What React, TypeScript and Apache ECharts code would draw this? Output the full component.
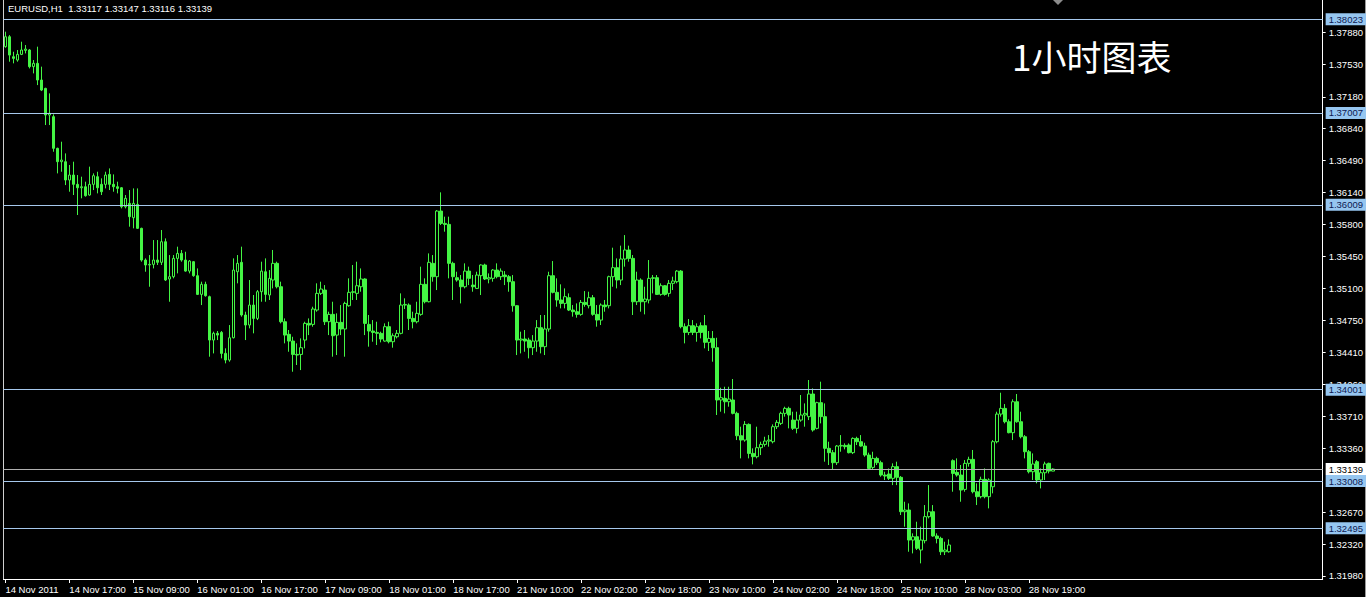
import React, { useEffect, useRef } from 'react';
import * as echarts from 'echarts';

const tickLabels = ['14 Nov 2011', '14 Nov 17:00', '15 Nov 09:00', '16 Nov 01:00', '16 Nov 17:00', '17 Nov 09:00', '18 Nov 01:00', '18 Nov 17:00', '21 Nov 10:00', '22 Nov 02:00', '22 Nov 18:00', '23 Nov 10:00', '24 Nov 02:00', '24 Nov 18:00', '25 Nov 10:00', '28 Nov 03:00', '28 Nov 19:00'];
const priceTicks = [1.3788, 1.3753, 1.3718, 1.3684, 1.3649, 1.3614, 1.358, 1.3545, 1.351, 1.3475, 1.3441, 1.3406, 1.3371, 1.3336, 1.3267, 1.3232, 1.3198];
const levelLines = [1.38023, 1.37007, 1.36009, 1.34001, 1.33008, 1.32495];
const bidPrice = 1.33139;
const header = 'EURUSD,H1  1.33117 1.33147 1.33116 1.33139';
const title = '1小时图表';

// [open, close, low, high] per hourly bar
const nov14 = [[1.37726,1.37834,1.37715,1.37889],[1.37834,1.37635,1.37563,1.37852],[1.37617,1.37599,1.37545,1.37671],[1.37581,1.37642,1.37563,1.3769],[1.37642,1.3769,1.37635,1.3778],[1.37686,1.377,1.37653,1.37744],[1.3769,1.37509,1.3749,1.377],[1.37509,1.37545,1.37436,1.37581],[1.37545,1.37364,1.37309,1.37726],[1.37364,1.37255,1.37244,1.37509],[1.37273,1.36984,1.36875,1.3728],[1.36984,1.37002,1.36875,1.37219],[1.36966,1.36622,1.36585,1.36991],[1.36622,1.36477,1.3635,1.36629],[1.36477,1.36495,1.36368,1.36694],[1.36477,1.36278,1.36223,1.36567],[1.36278,1.36332,1.36151,1.36441],[1.36332,1.36231,1.36115,1.36477],[1.36231,1.36194,1.35898,1.36332],[1.36194,1.36205,1.36079,1.36314],[1.36205,1.36108,1.36097,1.3626],[1.36115,1.36231,1.36108,1.36423],[1.36231,1.36325,1.36169,1.3635]];
const nov15 = [[1.36314,1.36194,1.36133,1.36368],[1.36231,1.36151,1.36115,1.36296],[1.36231,1.36332,1.36187,1.36368],[1.36339,1.36231,1.36169,1.36404],[1.36231,1.36205,1.36151,1.36339],[1.36205,1.36187,1.36133,1.3626],[1.36194,1.35988,1.3597,1.36202],[1.35988,1.36079,1.3597,1.36115],[1.36024,1.3588,1.35771,1.36169],[1.35869,1.36024,1.35753,1.36187],[1.36013,1.35753,1.35746,1.36187],[1.35753,1.35409,1.35391,1.3576],[1.35409,1.35355,1.35282,1.35427],[1.35355,1.35362,1.35119,1.35463],[1.35362,1.35409,1.35318,1.35626],[1.35409,1.35384,1.35355,1.35626],[1.35384,1.35608,1.35355,1.35735],[1.35608,1.35192,1.35181,1.35644],[1.35203,1.35228,1.34956,1.35463],[1.35228,1.35427,1.3521,1.35463],[1.35427,1.35481,1.35264,1.35554],[1.35481,1.35409,1.35391,1.35518],[1.35409,1.35289,1.35282,1.35499],[1.35289,1.35398,1.35264,1.35409]];
const nov16 = [[1.35391,1.35239,1.35228,1.35398],[1.35239,1.35036,1.35029,1.35318],[1.35036,1.35145,1.3492,1.35174],[1.35145,1.35022,1.35011,1.35174],[1.35011,1.3454,1.34359,1.35022],[1.3454,1.34613,1.34395,1.34631],[1.34613,1.34594,1.3454,1.34638],[1.34623,1.34395,1.34341,1.34638],[1.34395,1.34323,1.34287,1.3445],[1.34323,1.34565,1.34305,1.34703],[1.34565,1.353,1.34558,1.35427],[1.35282,1.35373,1.35156,1.35463],[1.35384,1.34812,1.34794,1.35554],[1.34812,1.34703,1.3454,1.34848],[1.34703,1.3492,1.34667,1.35192],[1.3492,1.34775,1.34613,1.35029],[1.34775,1.35065,1.34757,1.35083],[1.35065,1.35289,1.34956,1.35391],[1.35282,1.35036,1.34956,1.35427],[1.35029,1.3521,1.34975,1.353],[1.35192,1.35373,1.35101,1.35518],[1.35373,1.35119,1.35101,1.35391],[1.35119,1.34739,1.34721,1.35174],[1.34739,1.34594,1.34504,1.34775]];
const nov17 = [[1.34602,1.34529,1.34413,1.34649],[1.34529,1.34384,1.34196,1.34576],[1.34384,1.34377,1.34269,1.34504],[1.34384,1.34457,1.34214,1.34558],[1.3454,1.34721,1.3445,1.34739],[1.34721,1.34703,1.34594,1.34775],[1.3471,1.34877,1.34685,1.34902],[1.34866,1.35047,1.34848,1.35156],[1.35047,1.35094,1.35029,1.35174],[1.35083,1.34739,1.34703,1.35137],[1.34739,1.34819,1.34594,1.34848],[1.34819,1.34587,1.34359,1.34956],[1.34594,1.34732,1.34377,1.3483],[1.34732,1.3466,1.34594,1.3492],[1.3466,1.34938,1.34359,1.34956],[1.34913,1.35058,1.34902,1.3521],[1.35058,1.35065,1.34975,1.35355],[1.35047,1.3513,1.34975,1.35391],[1.35119,1.35203,1.35065,1.35318],[1.35203,1.34721,1.34594,1.3521],[1.3471,1.34638,1.34468,1.34812],[1.34638,1.34623,1.34522,1.34757],[1.34623,1.34613,1.34486,1.34739],[1.34613,1.34551,1.34515,1.34631]];
const nov18 = [[1.34529,1.34685,1.34522,1.34721],[1.34685,1.34522,1.34504,1.34739],[1.34522,1.34587,1.34457,1.34613],[1.34576,1.34613,1.34558,1.34649],[1.34613,1.3492,1.34602,1.35047],[1.3492,1.34927,1.34877,1.34993],[1.3492,1.34775,1.34649,1.34938],[1.34775,1.34739,1.34667,1.34848],[1.34739,1.3483,1.34721,1.34956],[1.34819,1.35145,1.34804,1.35337],[1.35145,1.34956,1.34938,1.3521],[1.34956,1.35384,1.34949,1.35481],[1.35373,1.35228,1.35174,1.35463],[1.35228,1.35941,1.35083,1.35952],[1.35941,1.35807,1.35789,1.36144],[1.35807,1.35796,1.35717,1.3588],[1.35796,1.35373,1.3521,1.3588],[1.35373,1.35228,1.34975,1.35391],[1.35217,1.35192,1.35174,1.35282],[1.35192,1.35119,1.34938,1.35246],[1.35119,1.35289,1.35101,1.35373],[1.35289,1.3521,1.35137,1.35337],[1.35137,1.35119,1.35065,1.35246]];
const nov21 = [[1.35101,1.35246,1.35094,1.35282],[1.35239,1.35355,1.35029,1.35362],[1.35355,1.35203,1.35192,1.35369],[1.35203,1.35217,1.35156,1.35264],[1.3521,1.353,1.35174,1.35311],[1.353,1.35228,1.3521,1.35373],[1.35228,1.35289,1.35192,1.35318],[1.35246,1.35228,1.35137,1.35289],[1.35228,1.35174,1.35065,1.35246],[1.35174,1.34913,1.34848,1.35246],[1.34913,1.3454,1.34377,1.3492],[1.3454,1.34551,1.34395,1.34631],[1.34551,1.34529,1.34413,1.34649],[1.3454,1.34457,1.34341,1.34565],[1.34457,1.34529,1.34377,1.34594],[1.34529,1.34674,1.34413,1.34757],[1.34674,1.34468,1.34395,1.34812],[1.34468,1.3466,1.34377,1.34812],[1.3466,1.35239,1.34631,1.35282],[1.35239,1.35058,1.35047,1.35398],[1.35058,1.34975,1.34902,1.3521],[1.34975,1.34938,1.34884,1.35145],[1.34938,1.35011,1.34884,1.35101],[1.35,1.34866,1.34855,1.35047]];
const nov22 = [[1.34866,1.34848,1.34794,1.3492],[1.34848,1.34819,1.34783,1.34938],[1.34819,1.34949,1.34804,1.34975],[1.34949,1.34927,1.34902,1.35072],[1.34913,1.35,1.34884,1.35065],[1.35,1.34819,1.34804,1.35029],[1.34819,1.34757,1.34685,1.3492],[1.34757,1.3492,1.34703,1.34938],[1.3492,1.34902,1.34848,1.34975],[1.34913,1.35228,1.34884,1.35239],[1.35228,1.35326,1.35119,1.35543],[1.35326,1.35192,1.35101,1.35427],[1.35192,1.3542,1.35137,1.35565],[1.3542,1.35518,1.35337,1.3568],[1.35518,1.35427,1.35391,1.35565],[1.35427,1.34956,1.34812,1.35463],[1.34956,1.35192,1.3492,1.35282],[1.35192,1.34956,1.34848,1.3521],[1.34956,1.34985,1.34819,1.35119],[1.34975,1.3521,1.34938,1.35409],[1.3521,1.35217,1.35047,1.35246],[1.35217,1.35036,1.35029,1.35246],[1.35036,1.3513,1.35022,1.35156],[1.3513,1.35036,1.35022,1.35137]];
const nov23 = [[1.35047,1.35156,1.35011,1.35192],[1.35156,1.35181,1.35083,1.35228],[1.35174,1.35289,1.35156,1.353],[1.35289,1.34685,1.34667,1.353],[1.34685,1.34623,1.34504,1.34721],[1.34623,1.34696,1.34594,1.34768],[1.34696,1.34623,1.34594,1.34757],[1.34623,1.34685,1.34522,1.34721],[1.34696,1.34623,1.34558,1.34732],[1.34696,1.34515,1.3445,1.34812],[1.34515,1.34558,1.34421,1.34638],[1.34558,1.34457,1.34305,1.34638],[1.34457,1.33889,1.33726,1.34565],[1.33889,1.33914,1.33762,1.34022],[1.33907,1.3387,1.33744,1.34033],[1.3387,1.33899,1.33816,1.34033],[1.33889,1.33744,1.33733,1.34117],[1.33744,1.33501,1.33454,1.33762],[1.33501,1.33454,1.33255,1.33599],[1.33454,1.33624,1.33436,1.3366],[1.33624,1.33309,1.33255,1.33635],[1.33309,1.33273,1.3319,1.33364],[1.33273,1.33371,1.33255,1.33599],[1.33371,1.33407,1.33291,1.33436]];
const nov24 = [[1.33407,1.33443,1.33382,1.3349],[1.33443,1.33454,1.33382,1.33508],[1.33436,1.33599,1.33418,1.33624],[1.33599,1.33646,1.33574,1.33671],[1.33635,1.33744,1.33617,1.33762],[1.33744,1.33798,1.33708,1.33816],[1.33798,1.33726,1.33581,1.33816],[1.33671,1.33581,1.33563,1.33762],[1.33581,1.33671,1.33527,1.33762],[1.33671,1.33726,1.33653,1.33943],[1.33726,1.33744,1.33599,1.33852],[1.33708,1.33954,1.33671,1.34106],[1.33954,1.33563,1.33545,1.34015],[1.33581,1.3386,1.3357,1.3387],[1.3386,1.33708,1.33635,1.34088],[1.33708,1.33364,1.33219,1.33852],[1.33364,1.33317,1.33183,1.33436],[1.33317,1.33208,1.33136,1.33346],[1.33208,1.33389,1.33183,1.334],[1.33389,1.33396,1.33327,1.33508],[1.33396,1.33382,1.33353,1.33418],[1.334,1.33317,1.33309,1.33418],[1.33317,1.33472,1.33302,1.33483],[1.33472,1.33436,1.334,1.3349]];
const nov25 = [[1.33436,1.33389,1.33382,1.33508],[1.33389,1.33291,1.33273,1.33425],[1.33291,1.33146,1.33136,1.33317],[1.33157,1.33255,1.33136,1.33327],[1.33255,1.33208,1.33183,1.33273],[1.33208,1.33074,1.33056,1.3323],[1.33074,1.33063,1.3302,1.3311],[1.33085,1.33038,1.3302,1.33146],[1.33038,1.33165,1.32965,1.33201],[1.33165,1.33049,1.32965,1.33219],[1.33049,1.32676,1.3264,1.33063],[1.32676,1.32694,1.32513,1.32784],[1.32694,1.32368,1.32241,1.32766],[1.32368,1.32404,1.32223,1.32441],[1.32404,1.32278,1.3226,1.32567],[1.3226,1.32368,1.32115,1.32513],[1.32361,1.32622,1.32332,1.32748],[1.32622,1.32676,1.32603,1.32965],[1.32676,1.32412,1.32404,1.32748],[1.32412,1.32386,1.32332,1.32441],[1.32386,1.32241,1.32205,1.32404],[1.32241,1.3226,1.32205,1.3235],[1.32241,1.32314,1.32231,1.32375]];
const nov28 = [[1.3323,1.33092,1.32893,1.33244],[1.33103,1.33074,1.33056,1.33255],[1.33074,1.32911,1.32784,1.33183],[1.32918,1.33201,1.32893,1.33237],[1.33201,1.33244,1.33165,1.33273],[1.33244,1.32893,1.32875,1.33346],[1.32893,1.32839,1.32748,1.32984],[1.32839,1.33027,1.32821,1.33056],[1.33027,1.32839,1.32821,1.33146],[1.32839,1.3302,1.32712,1.33038],[1.32947,1.33436,1.32875,1.33454],[1.33436,1.33736,1.33418,1.33762],[1.33736,1.33798,1.33708,1.33968],[1.33798,1.33653,1.33635,1.33845],[1.33653,1.33534,1.33527,1.33679],[1.33534,1.3387,1.33454,1.33896],[1.3387,1.33653,1.33642,1.33954],[1.33653,1.3349,1.33472,1.33762],[1.3349,1.33327,1.33255,1.33508],[1.33327,1.3311,1.33092,1.33346],[1.3311,1.33194,1.3302,1.33309],[1.33219,1.3302,1.32984,1.33237],[1.3302,1.33099,1.32929,1.33146],[1.33099,1.33194,1.3302,1.33219]];
const nov29 = [[1.33201,1.33117,1.33092,1.33208],[1.33117,1.33139,1.33116,1.33147]];

const SLOTS = 330;
const GREEN = '#44f544';
const LEVEL_LINE = '#a6c8ec';
const LEVEL_BOX = '#96c6f0';
const FONT = 'Liberation Sans';

export default function App() {
  const ref = useRef<HTMLDivElement>(null);
  useEffect(() => {
    if (!ref.current) return;
    const chart = echarts.init(ref.current, undefined, { renderer: 'svg' });
    const bars = [...nov14, ...nov15, ...nov16, ...nov17, ...nov18, ...nov21, ...nov22, ...nov23, ...nov24, ...nov25, ...nov28, ...nov29];
    const categories = Array.from({ length: SLOTS }, (_, i) => String(i));
    const showTick = (i: number) => i % 16 === 0 && i / 16 < tickLabels.length;

    const lineData: any[] = levelLines.map((v) => ({
      yAxis: v,
      lineStyle: { color: LEVEL_LINE, width: 1, type: 'solid' },
      label: {
        show: true, position: 'end', distance: 3,
        formatter: () => v.toFixed(5),
        color: '#0c1850', backgroundColor: LEVEL_BOX,
        padding: [1, 3, 1, 3], fontSize: 9.5, lineHeight: 10, fontFamily: FONT,
      },
    }));
    lineData.push({
      yAxis: bidPrice,
      lineStyle: { color: '#b0b0b0', width: 1, type: 'solid' },
      label: {
        show: true, position: 'end', distance: 3,
        formatter: () => bidPrice.toFixed(5),
        color: '#000', backgroundColor: '#ffffff',
        padding: [1, 3, 1, 3], fontSize: 9.5, lineHeight: 10, fontFamily: FONT,
      },
    });

    chart.setOption({
      animation: false,
      backgroundColor: '#000',
      grid: { left: 3.4, top: 0, width: SLOTS * 4, height: 579, containLabel: false },
      xAxis: {
        type: 'category',
        data: categories,
        boundaryGap: true,
        axisLine: { show: true, lineStyle: { color: '#ffffff', width: 1 } },
        axisTick: { show: true, alignWithLabel: true, length: 4, interval: (i: number) => showTick(i), lineStyle: { color: '#ffffff' } },
        axisLabel: {
          show: true, interval: (i: number) => showTick(i), align: 'left', margin: 5,
          color: '#ffffff', fontSize: 9.5, fontFamily: FONT,
          formatter: (_v: string, i: number) => (showTick(i) ? tickLabels[i / 16] : ''),
        },
        splitLine: { show: false },
      },
      yAxis: {
        type: 'value',
        position: 'right',
        min: 1.31945,
        max: 1.38233,
        scale: true,
        axisLine: { show: true, lineStyle: { color: '#ffffff', width: 1 } },
        axisTick: { show: true, length: 3, customValues: priceTicks, lineStyle: { color: '#ffffff' } },
        axisLabel: {
          show: true, customValues: priceTicks, margin: 6, color: '#ffffff', fontSize: 9.5, fontFamily: FONT,
          formatter: (v: number) => v.toFixed(5),
        },
        splitLine: { show: false },
      },
      series: [
        {
          type: 'candlestick',
          data: bars,
          barWidth: 3,
          itemStyle: { color: '#000000', color0: GREEN, borderColor: GREEN, borderColor0: GREEN, borderWidth: 1 },
          markLine: { silent: true, precision: 5, symbol: ['none', 'none'], animation: false, data: lineData },
        },
      ],
      graphic: [
        { type: 'line', shape: { x1: 3.5, y1: 0, x2: 3.5, y2: 579 }, style: { stroke: '#d0d0d0', lineWidth: 1 } },
        { type: 'line', shape: { x1: 1365.5, y1: 0, x2: 1365.5, y2: 597 }, style: { stroke: '#9a9a9a', lineWidth: 1 } },
        { type: 'polygon', shape: { points: [[1053, 0], [1063, 0], [1058, 5]] }, style: { fill: '#8c8c8c' } },
        { type: 'text', x: 8, y: 3, style: { text: header, fill: '#ffffff', fontSize: 9.5, fontFamily: FONT } },
        { type: 'text', x: 1012, y: 38, style: { text: title, fill: '#ffffff', fontSize: 35, fontFamily: 'Noto Sans CJK SC' } },
      ],
    });
    return () => chart.dispose();
  }, []);
  return <div ref={ref} style={{ position: 'absolute', left: 0, top: 0, width: 1366, height: 597 }} />;
}
